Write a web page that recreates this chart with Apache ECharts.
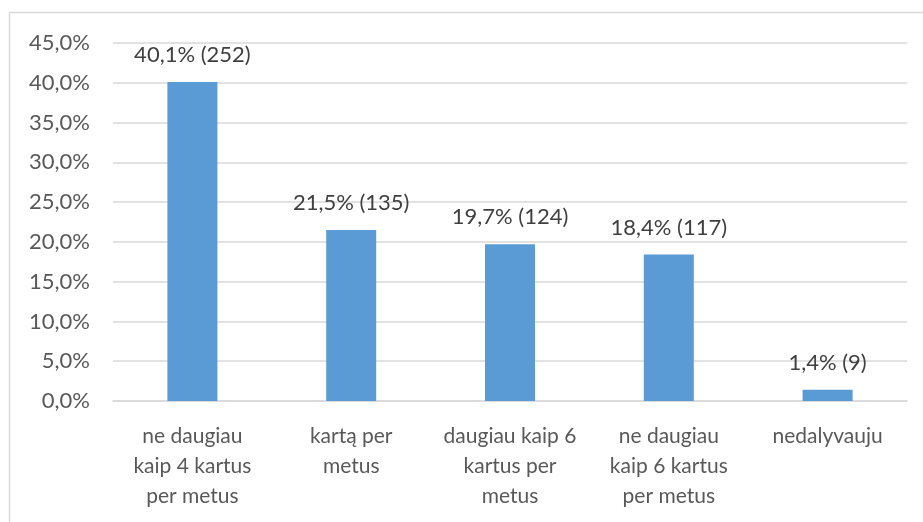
<!DOCTYPE html>
<html>
<head>
<meta charset="utf-8">
<script src="https://cdn.jsdelivr.net/npm/echarts@6/dist/echarts.min.js"></script>
<style>
  html, body { margin: 0; padding: 0; background: #fff; }
  #main { width: 923px; height: 522px; }
</style>
</head>
<body>
<div id="main"></div>
<script>
var categories = [
    'ne daugiau\nkaip 4 kartus\nper metus',
    'kartą per\nmetus',
    'daugiau kaip 6\nkartus per\nmetus',
    'ne daugiau\nkaip 6 kartus\nper metus',
    'nedalyvauju'
];
var percents = [40.1, 21.5, 19.7, 18.4, 1.4];
var counts = [252, 135, 124, 117, 9];

var myChart = echarts.init(document.getElementById('main'));

var option = {
    animation: false,
    textStyle: {
        fontFamily: 'Lato'
    },
    graphic: [{
        type: 'rect',
        shape: { x: 9.5, y: 12.5, width: 930, height: 530 },
        style: { fill: 'none', stroke: '#d9d9d9', lineWidth: 1.5 }
    }],
    grid: {
        left: 113,
        right: 16,
        top: 43,
        bottom: 121
    },
    xAxis: {
        type: 'category',
        data: categories,
        axisLine: {
            lineStyle: { color: '#d9d9d9', width: 1.5 }
        },
        axisTick: { show: false },
        axisLabel: {
            interval: 0,
            color: '#595959',
            fontSize: 21,
            lineHeight: 30,
            margin: 20
        }
    },
    yAxis: {
        type: 'value',
        min: 0,
        max: 45,
        interval: 5,
        axisLine: { show: false },
        axisTick: { show: false },
        axisLabel: {
            color: '#595959',
            fontSize: 22,
            margin: 23,
            formatter: function (v) {
                return v.toFixed(1).replace('.', ',') + '%';
            }
        },
        splitLine: {
            lineStyle: { color: '#d9d9d9', width: 1.5 }
        }
    },
    series: [{
        type: 'bar',
        data: percents,
        barWidth: 50,
        itemStyle: { color: '#5b9bd5' },
        label: {
            show: true,
            position: 'top',
            distance: 16,
            color: '#404040',
            fontSize: 22,
            formatter: function (p) {
                return p.value.toFixed(1).replace('.', ',') + '% (' + counts[p.dataIndex] + ')';
            }
        }
    }]
};

myChart.setOption(option);
</script>
</body>
</html>
